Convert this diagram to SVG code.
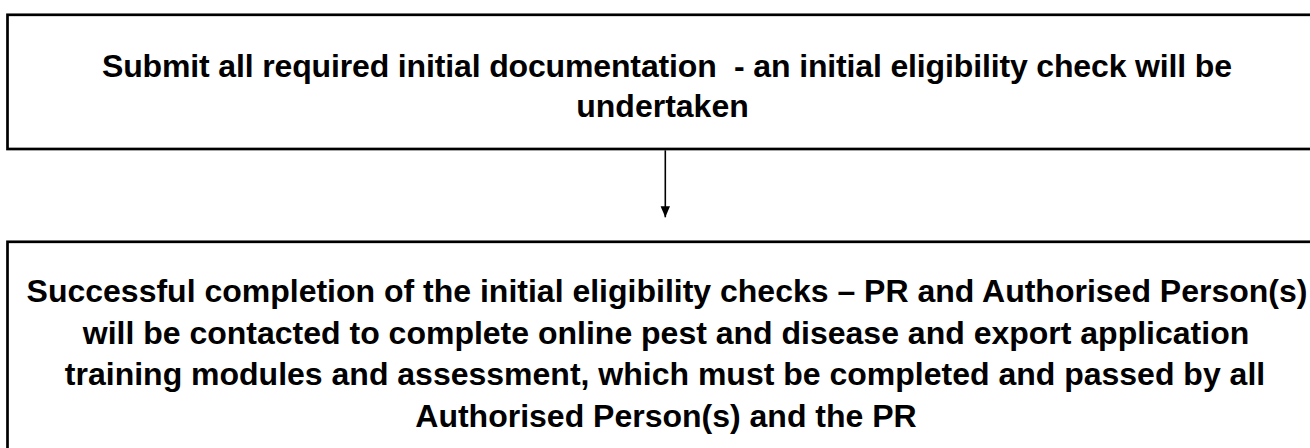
<svg xmlns="http://www.w3.org/2000/svg" width="1310" height="448" viewBox="0 0 1310 448">
  <style>
    .box { fill: #ffffff; stroke: #000000; stroke-width: 2.7; }
    .txt { font-family: "Liberation Sans", Arial, sans-serif; font-weight: bold; font-size: 32px; fill: #000000; text-anchor: middle; }
    .conn { stroke: #000000; stroke-width: 1.6; fill: none; }
  </style>
  <defs>
    <marker id="arrow" markerUnits="userSpaceOnUse" markerWidth="12" markerHeight="10" refX="11" refY="5" orient="auto" viewBox="0 0 12 10">
      <path d="M0,0.3 L11,5 L0,9.7 Z" fill="#000000"/>
    </marker>
  </defs>
  <rect width="1310" height="448" fill="#ffffff"/>
  <g id="node-submit">
    <rect class="box" x="7.5" y="14.8" width="1320" height="134.2"/>
    <text class="txt" x="667" y="76.7" xml:space="preserve" textLength="1130" lengthAdjust="spacing">Submit all required initial documentation  - an initial eligibility check will be</text>
    <text class="txt" x="662.5" y="116.7">undertaken</text>
  </g>
  <g id="connectors">
    <line class="conn" x1="665.3" y1="150.3" x2="665.3" y2="217.3" marker-end="url(#arrow)"/>
  </g>
  <g id="node-completion">
    <rect class="box" x="7.5" y="241.8" width="1320" height="230"/>
    <text class="txt" x="667" y="301.7">Successful completion of the initial eligibility checks – PR and Authorised Person(s)</text>
    <text class="txt" x="666" y="343.5">will be contacted to complete online pest and disease and export application</text>
    <text class="txt" x="665" y="385.3">training modules and assessment, which must be completed and passed by all</text>
    <text class="txt" x="666" y="427.1">Authorised Person(s) and the PR</text>
  </g>
</svg>
